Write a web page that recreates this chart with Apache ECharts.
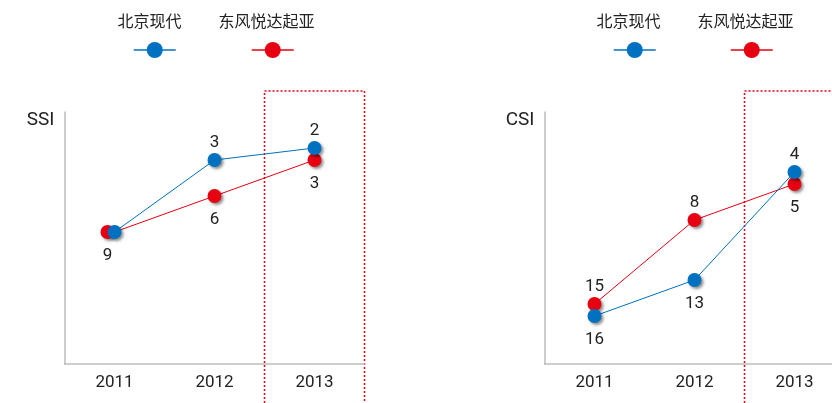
<!DOCTYPE html>
<html>
<head>
<meta charset="utf-8">
<script src="https://cdn.jsdelivr.net/npm/echarts@6/dist/echarts.min.js"></script>
<style>
html,body{margin:0;padding:0;background:#fff;}
#chart{width:832px;height:403px;}
</style>
</head>
<body>
<div id="chart"></div>
<script>
// ---- data ----
const categories = ['2011', '2012', '2013'];
const seriesNames = ['北京现代', '东风悦达起亚'];
const panelNames = ['SSI', 'CSI'];
const highlightCategory = '2013';
// ranks (lower is better)
const ssiHyundai = [9, 3, 2];
const ssiKia = [9, 6, 3];
const csiHyundai = [16, 13, 4];
const csiKia = [15, 8, 5];

// ---- style ----
const BLUE = '#0070c0';
const RED = '#e60012';
const TEXT = '#222';
const AXIS = '#bdbdbd';
const FONT = 'Roboto, "Noto Sans CJK SC", sans-serif';
const labelPos = {
  ssiHyundai: ['none', 'top', 'top'],
  ssiKia: ['bottom', 'bottom', 'bottom'],
  csiHyundai: ['bottom', 'bottom', 'top'],
  csiKia: ['top', 'top', 'bottom']
};

function mkData(values, positions, offsets) {
  return values.map((v, i) => {
    const item = { value: v, label: { show: positions[i] !== 'none', position: positions[i] === 'none' ? 'top' : positions[i] } };
    if (offsets && offsets[i]) item.symbolOffset = offsets[i];
    return item;
  });
}

function mkSeries(name, color, values, positions, idx, z, offsets) {
  return {
    type: 'line', name: name, xAxisIndex: idx, yAxisIndex: idx, z: z,
    data: mkData(values, positions, offsets),
    symbol: 'circle', symbolSize: 14,
    lineStyle: { color: color, width: 1 },
    itemStyle: { color: color, shadowColor: 'rgba(0,0,0,0.45)', shadowBlur: 3, shadowOffsetX: 2, shadowOffsetY: 2 },
    label: { color: TEXT, fontSize: 17, fontFamily: FONT, distance: 5, offset: [0, 3] },
    emphasis: { disabled: true },
    animation: false
  };
}

const grids = [
  { left: 64.5, top: 112, width: 300, height: 252, containLabel: false, outerBoundsMode: 'none' },
  { left: 544.5, top: 112, width: 300, height: 252, containLabel: false, outerBoundsMode: 'none' }
];

const xAxes = grids.map((g, i) => ({
  type: 'category', gridIndex: i, data: categories, position: 'bottom',
  axisLine: { onZero: false, lineStyle: { color: AXIS, width: 1.5 } },
  axisTick: { length: 9, lineStyle: { color: AXIS, width: 1.5 } },
  axisLabel: { color: TEXT, fontSize: 17, fontFamily: FONT, margin: 10 },
  splitLine: { show: false }
}));

const yAxes = grids.map((g, i) => ({
  type: 'value', gridIndex: i, min: -1, max: 20, inverse: true,
  name: panelNames[i], nameLocation: 'start', nameGap: -8,
  nameTextStyle: { color: TEXT, fontSize: 19, fontFamily: FONT, align: 'right', verticalAlign: 'middle', padding: [0, 10, 0, 0] },
  axisLine: { show: true, lineStyle: { color: AXIS, width: 1.5 } },
  axisTick: { show: false }, axisLabel: { show: false }, splitLine: { show: false }
}));

const series = [
  mkSeries(seriesNames[1], RED, ssiKia, labelPos.ssiKia, 0, 2, [[-7, 0], null, null]),
  mkSeries(seriesNames[0], BLUE, ssiHyundai, labelPos.ssiHyundai, 0, 3),
  mkSeries(seriesNames[1], RED, csiKia, labelPos.csiKia, 1, 2),
  mkSeries(seriesNames[0], BLUE, csiHyundai, labelPos.csiHyundai, 1, 3)
];

function mkLegend(name, left) {
  return {
    left: left, top: 35, data: [name], itemWidth: 42, itemHeight: 20,
    formatter: () => '', selectedMode: false,
    itemStyle: { shadowBlur: 0, shadowOffsetX: 0, shadowOffsetY: 0, shadowColor: 'transparent' },
    lineStyle: { width: 1.5 }
  };
}
const legends = [
  mkLegend(seriesNames[0], 128), mkLegend(seriesNames[1], 246),
  mkLegend(seriesNames[0], 608), mkLegend(seriesNames[1], 725)
];

const legendTexts = [[seriesNames[0], 149.5], [seriesNames[1], 266.5], [seriesNames[0], 628.5], [seriesNames[1], 745.5]];

const chart = echarts.init(document.getElementById('chart'));
chart.setOption({
  animation: false,
  textStyle: { fontFamily: FONT },
  grid: grids, xAxis: xAxes, yAxis: yAxes, series: series, legend: legends
});

// legend captions above icons + highlight frames around 2013
const graphics = legendTexts.map(([t, x]) => ({
  type: 'text', x: x, y: 21,
  style: { text: t, fill: TEXT, fontSize: 16, fontFamily: '"Noto Sans CJK SC", sans-serif', align: 'center', verticalAlign: 'middle' }
}));
grids.forEach((g, i) => {
  const c = chart.convertToPixel({ xAxisIndex: i }, highlightCategory);
  const p = chart.convertToPixel({ xAxisIndex: i }, categories[categories.indexOf(highlightCategory) - 1]);
  const band = c[0] !== undefined ? c[0] - p[0] : c - p;
  const cx = c[0] !== undefined ? c[0] : c;
  graphics.push({
    type: 'rect', silent: true, z: 0,
    shape: { x: cx - band / 2, y: 91, width: band, height: 400 },
    style: { fill: 'none', stroke: RED, lineWidth: 1.5, lineDash: [2, 2] }
  });
});
chart.setOption({ graphic: graphics });
</script>
</body>
</html>
